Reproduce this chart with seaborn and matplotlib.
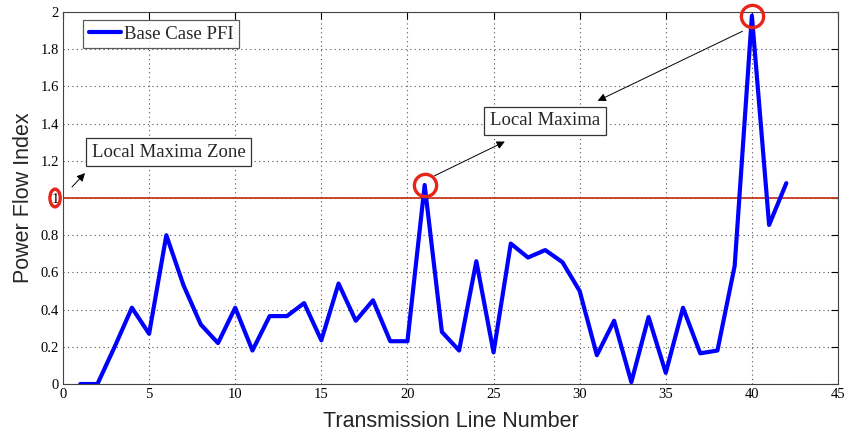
import matplotlib
matplotlib.use("Agg")
import matplotlib.pyplot as plt
from matplotlib.patches import Ellipse
import seaborn as sns
import pandas as pd

line_number = list(range(1, 43))
pfi = [0.0, 0.0, 0.20, 0.41, 0.27, 0.80, 0.53, 0.32, 0.22, 0.41,
       0.18, 0.365, 0.365, 0.435, 0.235, 0.54, 0.34, 0.45, 0.23, 0.23,
       1.07, 0.28, 0.18, 0.66, 0.17, 0.755, 0.68, 0.72, 0.655, 0.50,
       0.155, 0.34, 0.01, 0.36, 0.06, 0.41, 0.165, 0.18, 0.635, 1.98,
       0.855, 1.08]
x_ticks = [0, 5, 10, 15, 20, 25, 30, 35, 40, 45]
y_ticks = [0, 0.2, 0.4, 0.6, 0.8, 1, 1.2, 1.4, 1.6, 1.8, 2]
y_tick_labels = ["0", "0.2", "0.4", "0.6", "0.8", "1", "1.2", "1.4", "1.6", "1.8", "2"]
threshold = 1.0
maxima_lines = [21, 40]

df = pd.DataFrame({"Line": line_number, "PFI": pfi})

sns.set_style("white")
plt.rcParams["font.family"] = ["Liberation Serif", "DejaVu Serif"]

fig = plt.figure(figsize=(8.46, 4.37), dpi=100)
ax = fig.add_axes([63/846, 1-384/437, (838-63)/846, (384-12)/437])

sns.lineplot(data=df, x="Line", y="PFI", ax=ax, color="#0000ff", linewidth=3.0,
             label="Base Case PFI")
ax.axhline(threshold, color="#c8391e", linewidth=1.3, zorder=1)

ax.set_xlim(0, 45)
ax.set_ylim(0, 2)
ax.set_xticks(x_ticks)
ax.set_yticks(y_ticks)
ax.set_yticklabels(y_tick_labels)
ax.grid(True, linestyle=(0, (1, 3)), color="#555555", linewidth=0.8)
ax.tick_params(direction="in", top=True, right=True, labelsize=10.5, length=5, width=0.8,
               colors="black", pad=3)
for s in ax.spines.values():
    s.set_color("#444444")
    s.set_linewidth(0.8)

ax.set_xlabel("Transmission Line Number", fontsize=15.5, family="Liberation Sans", labelpad=7)
ax.set_ylabel("Power Flow Index", fontsize=15.5, family="Liberation Sans", labelpad=5)

leg = ax.legend(loc="upper left", bbox_to_anchor=(0.0258, 0.9785), borderaxespad=0,
                fontsize=13.5, frameon=True, fancybox=False, edgecolor="#333333",
                handlelength=1.75, handletextpad=0.15, borderpad=0.3)
leg.get_frame().set_linewidth(0.9)

# red circles on local maxima
for ln in maxima_lines:
    ax.plot([ln], [pfi[ln - 1]], marker="o", markersize=16, markerfacecolor="none",
            markeredgecolor="#e8251a", markeredgewidth=2.4, zorder=5, clip_on=False)
ax.add_patch(Ellipse((-0.46, threshold), 0.6, 0.095, fill=False, edgecolor="#e8251a",
                     linewidth=2.4, clip_on=False, zorder=6))

box = dict(boxstyle="square,pad=0.3", facecolor="white", edgecolor="#333333", linewidth=0.9)
ax.text(1.68, 1.247, "Local Maxima Zone", fontsize=13.5, va="center", ha="left", bbox=box)
ax.text(24.8, 1.414, "Local Maxima", fontsize=13.5, va="center", ha="left", bbox=box)

arr = dict(arrowstyle="-|>", color="black", linewidth=0.7, mutation_scale=12)
ax.annotate("", xy=(1.39, 1.145), xytext=(0.41, 1.048), arrowprops=arr)
ax.annotate("", xy=(25.8, 1.31), xytext=(21.43, 1.113), arrowprops=arr)
ax.annotate("", xy=(30.9, 1.516), xytext=(39.6, 1.903), arrowprops=arr)

fig.savefig("out.png", dpi=100)
